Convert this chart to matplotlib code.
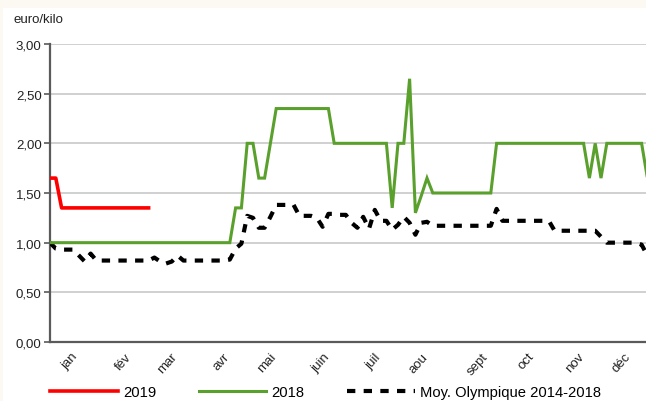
import matplotlib
matplotlib.use('Agg')
import matplotlib.pyplot as plt
from matplotlib.patches import Rectangle
import numpy as np

plt.rcParams['font.family'] = ['Liberation Sans', 'DejaVu Sans']

# Data: about two readings per week, index 0 = first reading of January
prix_2019 = [1.65, 1.65, 1.35, 1.35, 1.35, 1.35, 1.35, 1.35, 1.35, 1.35,
             1.35, 1.35, 1.35, 1.35, 1.35, 1.35, 1.35, 1.35]

prix_2018 = [1.00, 1.00, 1.00, 1.00, 1.00, 1.00, 1.00, 1.00, 1.00, 1.00,
             1.00, 1.00, 1.00, 1.00, 1.00, 1.00, 1.00, 1.00, 1.00, 1.00,
             1.00, 1.00, 1.00, 1.00, 1.00, 1.00, 1.00, 1.00, 1.00, 1.00,
             1.00, 1.00, 1.35, 1.35, 2.00, 2.00, 1.65, 1.65, 2.00, 2.35,
             2.35, 2.35, 2.35, 2.35, 2.35, 2.35, 2.35, 2.35, 2.35, 2.00,
             2.00, 2.00, 2.00, 2.00, 2.00, 2.00, 2.00, 2.00, 2.00, 1.35,
             2.00, 2.00, 2.65, 1.30, 1.47, 1.65, 1.50, 1.50, 1.50, 1.50,
             1.50, 1.50, 1.50, 1.50, 1.50, 1.50, 1.50, 2.00, 2.00, 2.00,
             2.00, 2.00, 2.00, 2.00, 2.00, 2.00, 2.00, 2.00, 2.00, 2.00,
             2.00, 2.00, 2.00, 1.65, 2.00, 1.65, 2.00, 2.00, 2.00, 2.00,
             2.00, 2.00, 2.00, 1.65]

moy_olympique = [1.00, 0.94, 0.93, 0.93, 0.93, 0.87, 0.81, 0.89, 0.82, 0.82,
                 0.82, 0.82, 0.82, 0.82, 0.82, 0.82, 0.82, 0.82, 0.85, 0.81,
                 0.79, 0.81, 0.87, 0.82, 0.82, 0.82, 0.82, 0.82, 0.82, 0.82,
                 0.82, 0.83, 0.94, 0.99, 1.27, 1.25, 1.15, 1.15, 1.26, 1.38,
                 1.38, 1.38, 1.38, 1.27, 1.27, 1.27, 1.25, 1.16, 1.29, 1.29,
                 1.28, 1.28, 1.20, 1.15, 1.26, 1.14, 1.33, 1.22, 1.22, 1.13,
                 1.18, 1.26, 1.20, 1.08, 1.20, 1.21, 1.17, 1.17, 1.17, 1.17,
                 1.17, 1.17, 1.17, 1.17, 1.17, 1.17, 1.17, 1.34, 1.22, 1.22,
                 1.22, 1.22, 1.22, 1.22, 1.22, 1.22, 1.22, 1.12, 1.12, 1.12,
                 1.12, 1.12, 1.12, 1.12, 1.12, 1.06, 1.00, 1.00, 1.00, 1.00,
                 1.00, 1.00, 0.98, 0.87]

mois = ['jan', 'fév', 'mar', 'avr', 'mai', 'juin', 'juil', 'aou',
        'sept', 'oct', 'nov', 'déc']
mois_pos = [3.6, 13.0, 20.8, 29.8, 37.8, 47.2, 56.0, 64.0, 74.4, 82.3, 91.0, 99.0]

W, H = 646, 402
step = 5.8  # pixels between readings

fig = plt.figure(figsize=(W / 100, H / 100), dpi=100)
fig.patch.set_facecolor('#fcf9f3')
fig.patches.append(Rectangle((3 / W, 0), 1, (H - 9) / H, transform=fig.transFigure,
                             facecolor='white', edgecolor='none', zorder=-10))

ax = fig.add_axes([50 / W, 59 / H, (W - 50) / W, 298 / H])
ax.patch.set_alpha(0)

axisColour = '#5a5a5a'
textColour = '#222222'

ax.plot(np.arange(len(moy_olympique)), moy_olympique, color='black', lw=3,
        ls=(0, (2, 2)), dash_capstyle='butt', label='Moy. Olympique 2014-2018', zorder=3)
ax.plot(np.arange(len(prix_2018)), prix_2018, color='#5aa02c', lw=2.2,
        label='2018', zorder=4, solid_joinstyle='miter')
ax.plot(np.arange(len(prix_2019)), prix_2019, color='#ff0000', lw=2.6,
        label='2019', zorder=5)

ax.set_xlim(0, (W - 50) / step)
ax.set_ylim(0, 3)

yticks = np.arange(0, 3.01, 0.5)
ax.set_yticks(yticks)
ax.set_yticklabels([('%.2f' % v).replace('.', ',') for v in yticks])
ax.yaxis.grid(True, color='#c8c8c8', lw=1.2)
ax.set_axisbelow(True)

ax.set_xticks(mois_pos)
ax.set_xticklabels(mois, rotation=48, ha='right', rotation_mode='anchor')

for side in ['top', 'right']:
    ax.spines[side].set_visible(False)
for side in ['left', 'bottom']:
    ax.spines[side].set_color(axisColour)
    ax.spines[side].set_linewidth(1.6)

ax.tick_params(axis='y', length=4, width=1.2, color=axisColour, labelsize=9.5,
               pad=2, labelcolor=textColour)
ax.tick_params(axis='x', length=0, labelsize=9.5, pad=6, labelcolor=textColour)

fig.text(13 / W, 1 - 20 / H, 'euro/kilo', fontsize=9.5, va='center', ha='left',
         color=textColour)

handles, labels = ax.get_legend_handles_labels()
order = [2, 1, 0]
fig.legend([handles[i] for i in order], [labels[i] for i in order],
           loc='center left', bbox_to_anchor=(50 / W, 9 / H), ncol=3,
           frameon=False, fontsize=10.6, handlelength=4.6, handletextpad=0.35,
           columnspacing=2.9, borderpad=0, borderaxespad=0)

fig.savefig('out.png', dpi=100, facecolor=fig.get_facecolor())
